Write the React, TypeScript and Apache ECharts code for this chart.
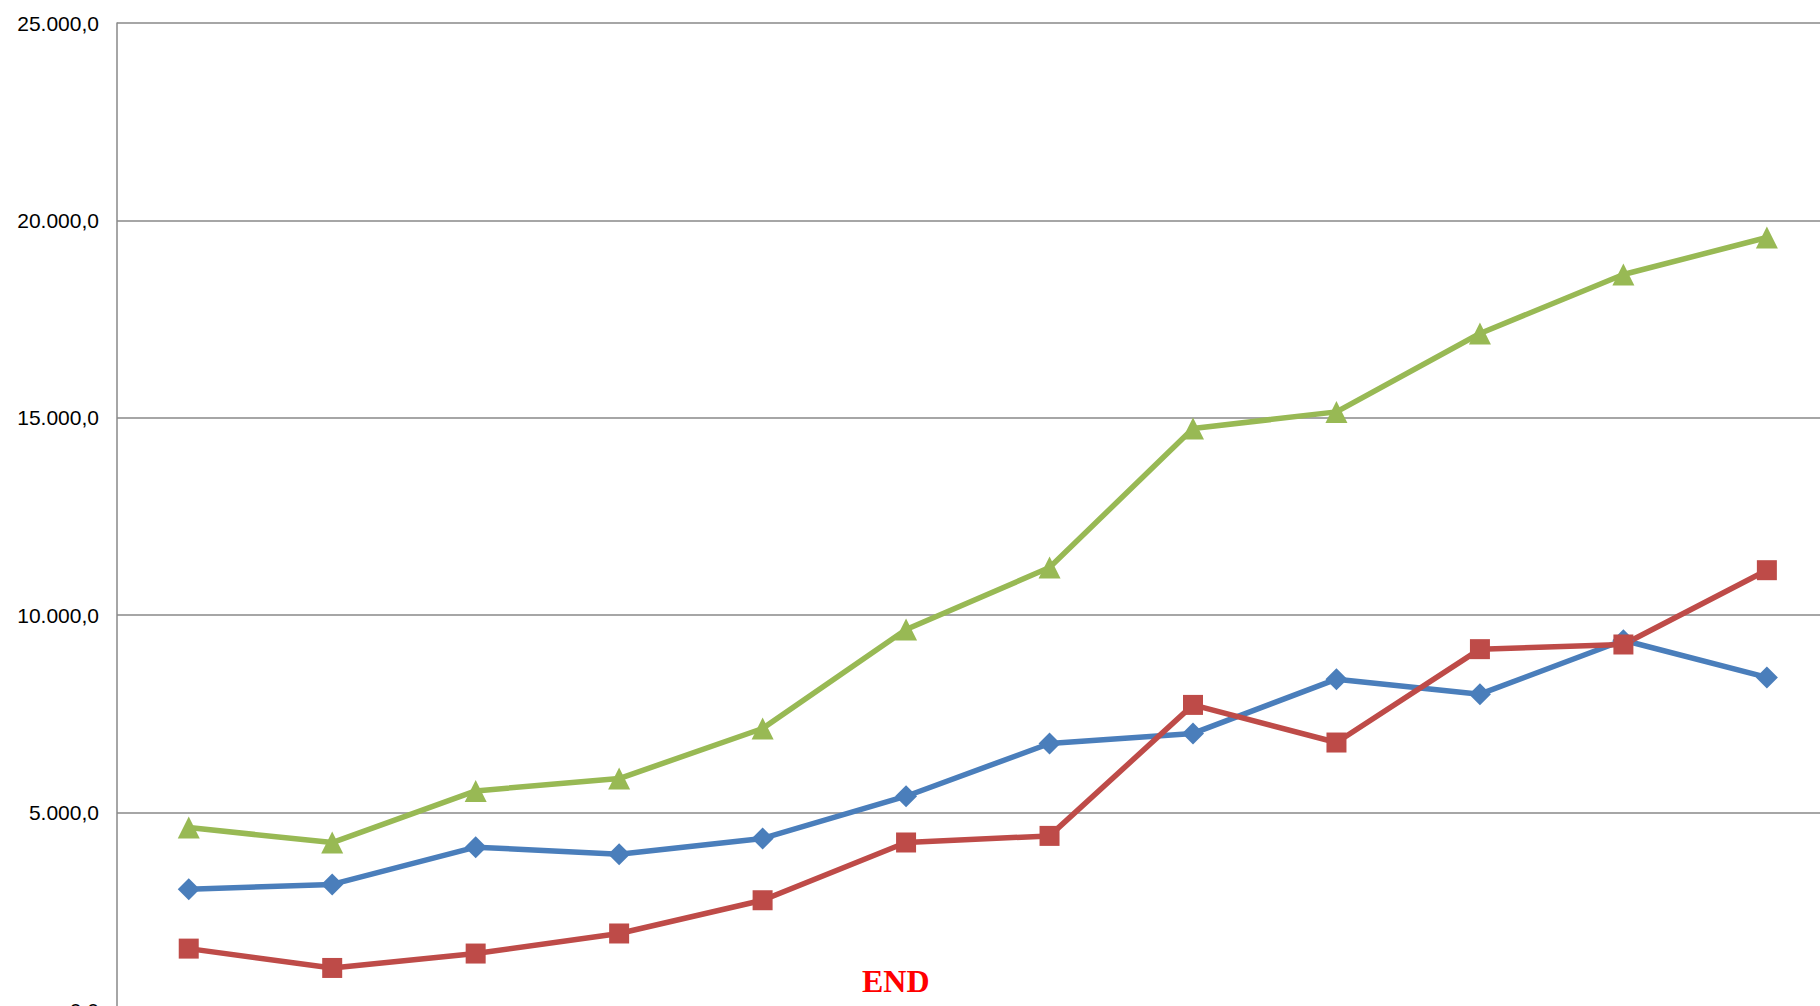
import React, { useEffect, useRef } from "react";
import * as echarts from "echarts";

const categories = ["1", "2", "3", "4", "5", "6", "7", "8", "9", "10", "11", "12"];
const blueValues = [3060, 3180, 4125, 3945, 4345, 5415, 6750, 7005, 8380, 8000, 9365, 8425];
const redValues = [1555, 1065, 1430, 1938, 2780, 4243, 4410, 7728, 6775, 9140, 9258, 11140];
const greenValues = [4620, 4240, 5550, 5862, 7130, 9638, 11208, 14728, 15150, 17135, 18630, 19566];
const yMin = 0;
const yMax = 25000;
const yStep = 5000;
const noteText = "END";

function fmt(v: number): string {
  const int = Math.round(v).toString().replace(/\B(?=(\d{3})+(?!\d))/g, ".");
  return int + ",0";
}

export default function App() {
  const ref = useRef<HTMLDivElement>(null);
  useEffect(() => {
    document.body.style.margin = "0";
    const chart = echarts.init(ref.current!, undefined, { renderer: "svg" });
    const lineSeries = (name: string, data: number[], color: string, symbol: string, size: number) => ({
      name,
      type: "line",
      data,
      symbol,
      symbolSize: size,
      lineStyle: { color, width: 5.5 },
      itemStyle: { color, borderWidth: 0 },
      z: 3,
    });
    chart.setOption({
      animation: false,
      backgroundColor: "#ffffff",
      grid: { left: 117, top: 23, width: 1721.6, height: 987, containLabel: false },
      xAxis: {
        type: "category",
        data: categories,
        boundaryGap: true,
        axisLine: { show: true, lineStyle: { color: "#888888", width: 1.5 } },
        axisTick: { show: false },
        axisLabel: { show: false },
        splitLine: { show: false },
      },
      yAxis: {
        type: "value",
        min: yMin,
        max: yMax,
        interval: yStep,
        axisLine: { show: true, lineStyle: { color: "#888888", width: 1.5 } },
        axisTick: { show: false },
        axisLabel: {
          formatter: (v: number) => fmt(v),
          color: "#000000",
          fontFamily: "Liberation Sans, Arial, sans-serif",
          fontSize: 21,
          margin: 18,
        },
        splitLine: { show: true, lineStyle: { color: "#888888", width: 1.5 } },
      },
      series: [
        lineSeries("Series 1", blueValues, "#4a7ebb", "diamond", 22),
        lineSeries("Series 2", redValues, "#be4b48", "rect", 20),
        lineSeries("Series 3", greenValues, "#98b954", "triangle", 22),
      ],
      graphic: [
        {
          type: "text",
          left: 896 - 34,
          top: 965,
          style: {
            text: noteText,
            fill: "#ff0000",
            font: "bold 32px 'Liberation Serif', 'Times New Roman', serif",
          },
        },
      ],
    });
    return () => chart.dispose();
  }, []);
  return (
    <div style={{ position: "fixed", left: 0, top: 0, width: 1820, height: 1006, overflow: "hidden", background: "#fff" }}>
      <div ref={ref} style={{ width: 1860, height: 1040 }} />
    </div>
  );
}
